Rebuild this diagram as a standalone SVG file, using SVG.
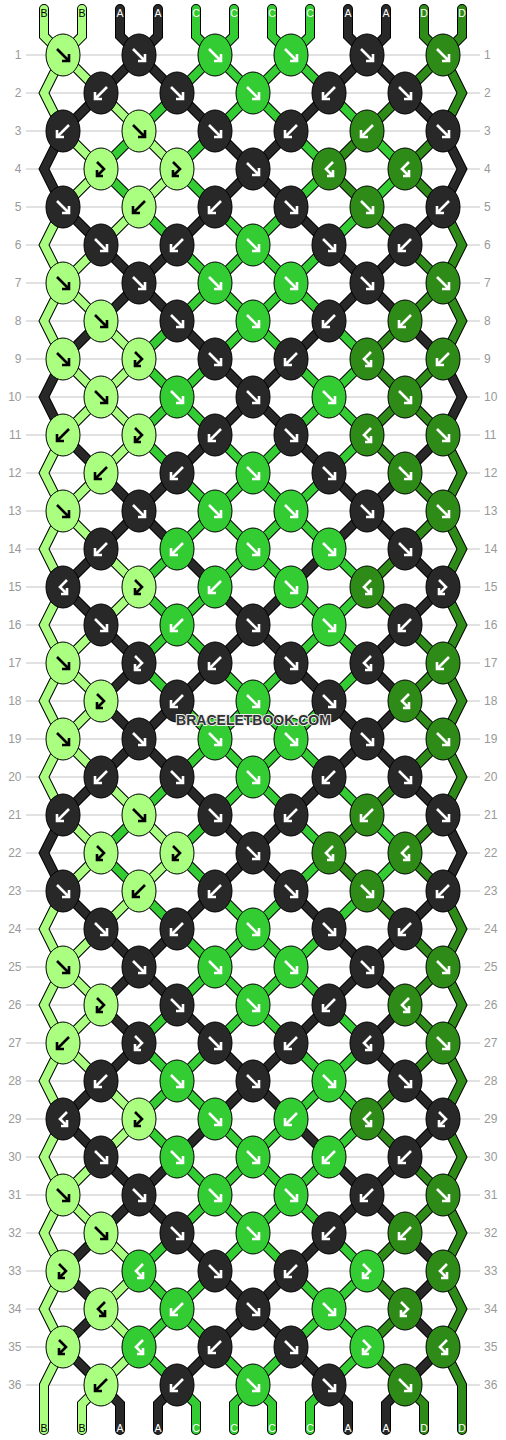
<svg xmlns="http://www.w3.org/2000/svg" xmlns:xlink="http://www.w3.org/1999/xlink" width="506" height="1440" viewBox="0 0 506 1440">
<style>
.grid{stroke:#c4c4c4;stroke-width:1;fill:none}
.num{font-family:"Liberation Sans",Arial,sans-serif;font-size:12px;fill:#999}
.nl{text-anchor:end}
.lab{font-family:"Liberation Sans",Arial,sans-serif;font-size:10.5px;text-anchor:middle}
.lB{fill:#000}.lW{fill:#fff}
.o{stroke:#000;stroke-width:10;fill:none;stroke-linecap:round;stroke-linejoin:miter}
.th{stroke-width:8;fill:none;stroke-linecap:round;stroke-linejoin:miter}
.tB{stroke:#aaff80}.tA{stroke:#282828}.tC{stroke:#33cc33}.tD{stroke:#2e8b17}
ellipse{stroke:#000;stroke-width:1}
.kB ellipse{fill:#aaff80}.kA ellipse{fill:#282828}.kC ellipse{fill:#33cc33}.kD ellipse{fill:#2e8b17}
.kB{stroke:#000}.kA,.kC,.kD{stroke:#fff}
.wm{font-family:"Liberation Sans",Arial,sans-serif;font-weight:bold;font-size:14px;text-anchor:middle;fill:#333;stroke:#eee;stroke-width:2;paint-order:stroke}
</style>
<defs>
<path id="aF" fill="none" stroke-width="2.6" d="M-6,-6L5,5M-1,6H6V-1"/>
<path id="aB" fill="none" stroke-width="2.6" d="M6,-6L-5,5M1,6H-6V-1"/>
<path id="aFB" fill="none" stroke-width="2.6" d="M-4,-7L3,0L-4,7M-4,1V7H2"/>
<path id="aBF" fill="none" stroke-width="2.6" d="M4,-7L-3,0L4,7M4,1V7H-2"/>
<path id="t1" d="M44,9V36L63,55L101,93L139,131L177,169L139,207L101,245L63,283L44,321L63,359L101,397L139,435L101,473L63,511L44,549L63,587L44,625L63,663L101,701L63,739L44,777L63,815L101,853L63,891L44,929L63,967L101,1005L63,1043L44,1081L63,1119L44,1157L63,1195L101,1233L139,1271L101,1309L139,1347L101,1385L82,1404V1430"/>
<path id="t2" d="M82,9V36L63,55L44,93L63,131L101,169L63,207L44,245L63,283L101,321L139,359L101,397L63,435L44,473L63,511L101,549L139,587L101,625L63,663L44,701L63,739L101,777L139,815L177,853L139,891L101,929L63,967L44,1005L63,1043L101,1081L139,1119L101,1157L63,1195L44,1233L63,1271L44,1309L63,1347L44,1385V1430"/>
<path id="t3" d="M120,9V36L139,55L177,93L215,131L253,169L291,207L329,245L367,283L405,321L443,359L462,397L443,435L405,473L367,511L329,549L291,587L253,625L215,663L177,701L139,739L101,777L63,815L44,853L63,891L101,929L139,967L177,1005L215,1043L253,1081L291,1119L329,1157L367,1195L405,1233L443,1271L405,1309L443,1347L405,1385L386,1404V1430"/>
<path id="t4" d="M158,9V36L139,55L101,93L63,131L44,169L63,207L101,245L139,283L177,321L215,359L253,397L291,435L329,473L367,511L405,549L443,587L405,625L367,663L405,701L367,739L329,777L291,815L253,853L215,891L177,929L139,967L101,1005L139,1043L101,1081L63,1119L101,1157L139,1195L177,1233L215,1271L253,1309L291,1347L329,1385L348,1404V1430"/>
<path id="t5" d="M196,9V36L215,55L253,93L291,131L329,169L291,207L253,245L215,283L177,321L139,359L177,397L215,435L253,473L291,511L329,549L367,587L329,625L291,663L253,701L215,739L177,777L139,815L101,853L139,891L177,929L215,967L253,1005L291,1043L329,1081L367,1119L329,1157L291,1195L253,1233L215,1271L177,1309L139,1347L177,1385L196,1404V1430"/>
<path id="t6" d="M234,9V36L215,55L177,93L139,131L101,169L139,207L177,245L215,283L253,321L291,359L329,397L367,435L329,473L291,511L253,549L215,587L177,625L139,663L177,701L215,739L253,777L291,815L329,853L291,891L253,929L215,967L177,1005L139,1043L177,1081L215,1119L253,1157L291,1195L329,1233L367,1271L329,1309L291,1347L253,1385L234,1404V1430"/>
<path id="t7" d="M272,9V36L291,55L329,93L367,131L405,169L367,207L329,245L291,283L253,321L215,359L177,397L139,435L177,473L215,511L253,549L291,587L329,625L367,663L329,701L291,739L253,777L215,815L177,853L215,891L253,929L291,967L329,1005L367,1043L329,1081L291,1119L253,1157L215,1195L177,1233L139,1271L177,1309L215,1347L253,1385L272,1404V1430"/>
<path id="t8" d="M310,9V36L291,55L253,93L215,131L177,169L215,207L253,245L291,283L329,321L367,359L329,397L291,435L253,473L215,511L177,549L139,587L177,625L215,663L253,701L291,739L329,777L367,815L405,853L367,891L329,929L291,967L253,1005L215,1043L177,1081L139,1119L177,1157L215,1195L253,1233L291,1271L329,1309L367,1347L329,1385L310,1404V1430"/>
<path id="t9" d="M348,9V36L367,55L405,93L443,131L462,169L443,207L405,245L367,283L329,321L291,359L253,397L215,435L177,473L139,511L101,549L63,587L101,625L139,663L101,701L139,739L177,777L215,815L253,853L291,891L329,929L367,967L405,1005L367,1043L405,1081L443,1119L405,1157L367,1195L329,1233L291,1271L253,1309L215,1347L177,1385L158,1404V1430"/>
<path id="t10" d="M386,9V36L367,55L329,93L291,131L253,169L215,207L177,245L139,283L101,321L63,359L44,397L63,435L101,473L139,511L177,549L215,587L253,625L291,663L329,701L367,739L405,777L443,815L462,853L443,891L405,929L367,967L329,1005L291,1043L253,1081L215,1119L177,1157L139,1195L101,1233L63,1271L101,1309L63,1347L101,1385L120,1404V1430"/>
<path id="t11" d="M424,9V36L443,55L462,93L443,131L405,169L443,207L462,245L443,283L405,321L367,359L405,397L443,435L462,473L443,511L405,549L367,587L405,625L443,663L462,701L443,739L405,777L367,815L329,853L367,891L405,929L443,967L462,1005L443,1043L405,1081L367,1119L405,1157L443,1195L462,1233L443,1271L462,1309L443,1347L462,1385V1430"/>
<path id="t12" d="M462,9V36L443,55L405,93L367,131L329,169L367,207L405,245L443,283L462,321L443,359L405,397L367,435L405,473L443,511L462,549L443,587L462,625L443,663L405,701L443,739L462,777L443,815L405,853L443,891L462,929L443,967L405,1005L443,1043L462,1081L443,1119L462,1157L443,1195L405,1233L367,1271L405,1309L367,1347L405,1385L424,1404V1430"/>
</defs>
<rect width="506" height="1440" fill="#fff"/>
<g id="grid">
<path class="grid" d="M26,55H480M26,93H480M26,131H480M26,169H480M26,207H480M26,245H480M26,283H480M26,321H480M26,359H480M26,397H480M26,435H480M26,473H480M26,511H480M26,549H480M26,587H480M26,625H480M26,663H480M26,701H480M26,739H480M26,777H480M26,815H480M26,853H480M26,891H480M26,929H480M26,967H480M26,1005H480M26,1043H480M26,1081H480M26,1119H480M26,1157H480M26,1195H480M26,1233H480M26,1271H480M26,1309H480M26,1347H480M26,1385H480"/>
</g>
<g id="row-numbers" class="num">
<text class="nl" x="21.5" y="59.3">1</text><text x="484" y="59.3">1</text>
<text class="nl" x="21.5" y="97.3">2</text><text x="484" y="97.3">2</text>
<text class="nl" x="21.5" y="135.3">3</text><text x="484" y="135.3">3</text>
<text class="nl" x="21.5" y="173.3">4</text><text x="484" y="173.3">4</text>
<text class="nl" x="21.5" y="211.3">5</text><text x="484" y="211.3">5</text>
<text class="nl" x="21.5" y="249.3">6</text><text x="484" y="249.3">6</text>
<text class="nl" x="21.5" y="287.3">7</text><text x="484" y="287.3">7</text>
<text class="nl" x="21.5" y="325.3">8</text><text x="484" y="325.3">8</text>
<text class="nl" x="21.5" y="363.3">9</text><text x="484" y="363.3">9</text>
<text class="nl" x="21.5" y="401.3">10</text><text x="484" y="401.3">10</text>
<text class="nl" x="21.5" y="439.3">11</text><text x="484" y="439.3">11</text>
<text class="nl" x="21.5" y="477.3">12</text><text x="484" y="477.3">12</text>
<text class="nl" x="21.5" y="515.3">13</text><text x="484" y="515.3">13</text>
<text class="nl" x="21.5" y="553.3">14</text><text x="484" y="553.3">14</text>
<text class="nl" x="21.5" y="591.3">15</text><text x="484" y="591.3">15</text>
<text class="nl" x="21.5" y="629.3">16</text><text x="484" y="629.3">16</text>
<text class="nl" x="21.5" y="667.3">17</text><text x="484" y="667.3">17</text>
<text class="nl" x="21.5" y="705.3">18</text><text x="484" y="705.3">18</text>
<text class="nl" x="21.5" y="743.3">19</text><text x="484" y="743.3">19</text>
<text class="nl" x="21.5" y="781.3">20</text><text x="484" y="781.3">20</text>
<text class="nl" x="21.5" y="819.3">21</text><text x="484" y="819.3">21</text>
<text class="nl" x="21.5" y="857.3">22</text><text x="484" y="857.3">22</text>
<text class="nl" x="21.5" y="895.3">23</text><text x="484" y="895.3">23</text>
<text class="nl" x="21.5" y="933.3">24</text><text x="484" y="933.3">24</text>
<text class="nl" x="21.5" y="971.3">25</text><text x="484" y="971.3">25</text>
<text class="nl" x="21.5" y="1009.3">26</text><text x="484" y="1009.3">26</text>
<text class="nl" x="21.5" y="1047.3">27</text><text x="484" y="1047.3">27</text>
<text class="nl" x="21.5" y="1085.3">28</text><text x="484" y="1085.3">28</text>
<text class="nl" x="21.5" y="1123.3">29</text><text x="484" y="1123.3">29</text>
<text class="nl" x="21.5" y="1161.3">30</text><text x="484" y="1161.3">30</text>
<text class="nl" x="21.5" y="1199.3">31</text><text x="484" y="1199.3">31</text>
<text class="nl" x="21.5" y="1237.3">32</text><text x="484" y="1237.3">32</text>
<text class="nl" x="21.5" y="1275.3">33</text><text x="484" y="1275.3">33</text>
<text class="nl" x="21.5" y="1313.3">34</text><text x="484" y="1313.3">34</text>
<text class="nl" x="21.5" y="1351.3">35</text><text x="484" y="1351.3">35</text>
<text class="nl" x="21.5" y="1389.3">36</text><text x="484" y="1389.3">36</text>
</g>
<g id="connectors">
<use href="#t1" class="o"/><use href="#t2" class="o"/><use href="#t3" class="o"/><use href="#t4" class="o"/><use href="#t5" class="o"/><use href="#t6" class="o"/><use href="#t7" class="o"/><use href="#t8" class="o"/><use href="#t9" class="o"/><use href="#t10" class="o"/><use href="#t11" class="o"/><use href="#t12" class="o"/>
<use href="#t1" class="th tB"/><use href="#t2" class="th tB"/><use href="#t3" class="th tA"/><use href="#t4" class="th tA"/><use href="#t5" class="th tC"/><use href="#t6" class="th tC"/><use href="#t7" class="th tC"/><use href="#t8" class="th tC"/><use href="#t9" class="th tA"/><use href="#t10" class="th tA"/><use href="#t11" class="th tD"/><use href="#t12" class="th tD"/>
</g>
<g id="labels-top">
<text class="lab lB" x="44" y="16.5">B</text><text class="lab lB" x="82" y="16.5">B</text><text class="lab lW" x="120" y="16.5">A</text><text class="lab lW" x="158" y="16.5">A</text><text class="lab lW" x="196" y="16.5">C</text><text class="lab lW" x="234" y="16.5">C</text><text class="lab lW" x="272" y="16.5">C</text><text class="lab lW" x="310" y="16.5">C</text><text class="lab lW" x="348" y="16.5">A</text><text class="lab lW" x="386" y="16.5">A</text><text class="lab lW" x="424" y="16.5">D</text><text class="lab lW" x="462" y="16.5">D</text>
</g>
<g id="labels-bottom">
<text class="lab lB" x="44" y="1431.5">B</text><text class="lab lB" x="82" y="1431.5">B</text><text class="lab lW" x="120" y="1431.5">A</text><text class="lab lW" x="158" y="1431.5">A</text><text class="lab lW" x="196" y="1431.5">C</text><text class="lab lW" x="234" y="1431.5">C</text><text class="lab lW" x="272" y="1431.5">C</text><text class="lab lW" x="310" y="1431.5">C</text><text class="lab lW" x="348" y="1431.5">A</text><text class="lab lW" x="386" y="1431.5">A</text><text class="lab lW" x="424" y="1431.5">D</text><text class="lab lW" x="462" y="1431.5">D</text>
</g>
<g id="knots">
<g id="k1_1" class="kB" transform="translate(63,55)"><ellipse rx="17" ry="21"/><use href="#aF"/></g>
<g id="k1_2" class="kA" transform="translate(139,55)"><ellipse rx="17" ry="21"/><use href="#aF"/></g>
<g id="k1_3" class="kC" transform="translate(215,55)"><ellipse rx="17" ry="21"/><use href="#aF"/></g>
<g id="k1_4" class="kC" transform="translate(291,55)"><ellipse rx="17" ry="21"/><use href="#aF"/></g>
<g id="k1_5" class="kA" transform="translate(367,55)"><ellipse rx="17" ry="21"/><use href="#aF"/></g>
<g id="k1_6" class="kD" transform="translate(443,55)"><ellipse rx="17" ry="21"/><use href="#aF"/></g>
<g id="k2_1" class="kA" transform="translate(101,93)"><ellipse rx="17" ry="21"/><use href="#aB"/></g>
<g id="k2_2" class="kA" transform="translate(177,93)"><ellipse rx="17" ry="21"/><use href="#aF"/></g>
<g id="k2_3" class="kC" transform="translate(253,93)"><ellipse rx="17" ry="21"/><use href="#aF"/></g>
<g id="k2_4" class="kA" transform="translate(329,93)"><ellipse rx="17" ry="21"/><use href="#aB"/></g>
<g id="k2_5" class="kA" transform="translate(405,93)"><ellipse rx="17" ry="21"/><use href="#aF"/></g>
<g id="k3_1" class="kA" transform="translate(63,131)"><ellipse rx="17" ry="21"/><use href="#aB"/></g>
<g id="k3_2" class="kB" transform="translate(139,131)"><ellipse rx="17" ry="21"/><use href="#aF"/></g>
<g id="k3_3" class="kA" transform="translate(215,131)"><ellipse rx="17" ry="21"/><use href="#aF"/></g>
<g id="k3_4" class="kA" transform="translate(291,131)"><ellipse rx="17" ry="21"/><use href="#aB"/></g>
<g id="k3_5" class="kD" transform="translate(367,131)"><ellipse rx="17" ry="21"/><use href="#aB"/></g>
<g id="k3_6" class="kA" transform="translate(443,131)"><ellipse rx="17" ry="21"/><use href="#aF"/></g>
<g id="k4_1" class="kB" transform="translate(101,169)"><ellipse rx="17" ry="21"/><use href="#aFB"/></g>
<g id="k4_2" class="kB" transform="translate(177,169)"><ellipse rx="17" ry="21"/><use href="#aFB"/></g>
<g id="k4_3" class="kA" transform="translate(253,169)"><ellipse rx="17" ry="21"/><use href="#aF"/></g>
<g id="k4_4" class="kD" transform="translate(329,169)"><ellipse rx="17" ry="21"/><use href="#aBF"/></g>
<g id="k4_5" class="kD" transform="translate(405,169)"><ellipse rx="17" ry="21"/><use href="#aBF"/></g>
<g id="k5_1" class="kA" transform="translate(63,207)"><ellipse rx="17" ry="21"/><use href="#aF"/></g>
<g id="k5_2" class="kB" transform="translate(139,207)"><ellipse rx="17" ry="21"/><use href="#aB"/></g>
<g id="k5_3" class="kA" transform="translate(215,207)"><ellipse rx="17" ry="21"/><use href="#aB"/></g>
<g id="k5_4" class="kA" transform="translate(291,207)"><ellipse rx="17" ry="21"/><use href="#aF"/></g>
<g id="k5_5" class="kD" transform="translate(367,207)"><ellipse rx="17" ry="21"/><use href="#aF"/></g>
<g id="k5_6" class="kA" transform="translate(443,207)"><ellipse rx="17" ry="21"/><use href="#aB"/></g>
<g id="k6_1" class="kA" transform="translate(101,245)"><ellipse rx="17" ry="21"/><use href="#aF"/></g>
<g id="k6_2" class="kA" transform="translate(177,245)"><ellipse rx="17" ry="21"/><use href="#aB"/></g>
<g id="k6_3" class="kC" transform="translate(253,245)"><ellipse rx="17" ry="21"/><use href="#aF"/></g>
<g id="k6_4" class="kA" transform="translate(329,245)"><ellipse rx="17" ry="21"/><use href="#aF"/></g>
<g id="k6_5" class="kA" transform="translate(405,245)"><ellipse rx="17" ry="21"/><use href="#aB"/></g>
<g id="k7_1" class="kB" transform="translate(63,283)"><ellipse rx="17" ry="21"/><use href="#aF"/></g>
<g id="k7_2" class="kA" transform="translate(139,283)"><ellipse rx="17" ry="21"/><use href="#aF"/></g>
<g id="k7_3" class="kC" transform="translate(215,283)"><ellipse rx="17" ry="21"/><use href="#aF"/></g>
<g id="k7_4" class="kC" transform="translate(291,283)"><ellipse rx="17" ry="21"/><use href="#aF"/></g>
<g id="k7_5" class="kA" transform="translate(367,283)"><ellipse rx="17" ry="21"/><use href="#aF"/></g>
<g id="k7_6" class="kD" transform="translate(443,283)"><ellipse rx="17" ry="21"/><use href="#aF"/></g>
<g id="k8_1" class="kB" transform="translate(101,321)"><ellipse rx="17" ry="21"/><use href="#aF"/></g>
<g id="k8_2" class="kA" transform="translate(177,321)"><ellipse rx="17" ry="21"/><use href="#aF"/></g>
<g id="k8_3" class="kC" transform="translate(253,321)"><ellipse rx="17" ry="21"/><use href="#aF"/></g>
<g id="k8_4" class="kA" transform="translate(329,321)"><ellipse rx="17" ry="21"/><use href="#aB"/></g>
<g id="k8_5" class="kD" transform="translate(405,321)"><ellipse rx="17" ry="21"/><use href="#aB"/></g>
<g id="k9_1" class="kB" transform="translate(63,359)"><ellipse rx="17" ry="21"/><use href="#aF"/></g>
<g id="k9_2" class="kB" transform="translate(139,359)"><ellipse rx="17" ry="21"/><use href="#aFB"/></g>
<g id="k9_3" class="kA" transform="translate(215,359)"><ellipse rx="17" ry="21"/><use href="#aF"/></g>
<g id="k9_4" class="kA" transform="translate(291,359)"><ellipse rx="17" ry="21"/><use href="#aB"/></g>
<g id="k9_5" class="kD" transform="translate(367,359)"><ellipse rx="17" ry="21"/><use href="#aBF"/></g>
<g id="k9_6" class="kD" transform="translate(443,359)"><ellipse rx="17" ry="21"/><use href="#aB"/></g>
<g id="k10_1" class="kB" transform="translate(101,397)"><ellipse rx="17" ry="21"/><use href="#aF"/></g>
<g id="k10_2" class="kC" transform="translate(177,397)"><ellipse rx="17" ry="21"/><use href="#aF"/></g>
<g id="k10_3" class="kA" transform="translate(253,397)"><ellipse rx="17" ry="21"/><use href="#aF"/></g>
<g id="k10_4" class="kC" transform="translate(329,397)"><ellipse rx="17" ry="21"/><use href="#aF"/></g>
<g id="k10_5" class="kD" transform="translate(405,397)"><ellipse rx="17" ry="21"/><use href="#aF"/></g>
<g id="k11_1" class="kB" transform="translate(63,435)"><ellipse rx="17" ry="21"/><use href="#aB"/></g>
<g id="k11_2" class="kB" transform="translate(139,435)"><ellipse rx="17" ry="21"/><use href="#aFB"/></g>
<g id="k11_3" class="kA" transform="translate(215,435)"><ellipse rx="17" ry="21"/><use href="#aB"/></g>
<g id="k11_4" class="kA" transform="translate(291,435)"><ellipse rx="17" ry="21"/><use href="#aF"/></g>
<g id="k11_5" class="kD" transform="translate(367,435)"><ellipse rx="17" ry="21"/><use href="#aBF"/></g>
<g id="k11_6" class="kD" transform="translate(443,435)"><ellipse rx="17" ry="21"/><use href="#aF"/></g>
<g id="k12_1" class="kB" transform="translate(101,473)"><ellipse rx="17" ry="21"/><use href="#aB"/></g>
<g id="k12_2" class="kA" transform="translate(177,473)"><ellipse rx="17" ry="21"/><use href="#aB"/></g>
<g id="k12_3" class="kC" transform="translate(253,473)"><ellipse rx="17" ry="21"/><use href="#aF"/></g>
<g id="k12_4" class="kA" transform="translate(329,473)"><ellipse rx="17" ry="21"/><use href="#aF"/></g>
<g id="k12_5" class="kD" transform="translate(405,473)"><ellipse rx="17" ry="21"/><use href="#aF"/></g>
<g id="k13_1" class="kB" transform="translate(63,511)"><ellipse rx="17" ry="21"/><use href="#aF"/></g>
<g id="k13_2" class="kA" transform="translate(139,511)"><ellipse rx="17" ry="21"/><use href="#aF"/></g>
<g id="k13_3" class="kC" transform="translate(215,511)"><ellipse rx="17" ry="21"/><use href="#aF"/></g>
<g id="k13_4" class="kC" transform="translate(291,511)"><ellipse rx="17" ry="21"/><use href="#aF"/></g>
<g id="k13_5" class="kA" transform="translate(367,511)"><ellipse rx="17" ry="21"/><use href="#aF"/></g>
<g id="k13_6" class="kD" transform="translate(443,511)"><ellipse rx="17" ry="21"/><use href="#aF"/></g>
<g id="k14_1" class="kA" transform="translate(101,549)"><ellipse rx="17" ry="21"/><use href="#aB"/></g>
<g id="k14_2" class="kC" transform="translate(177,549)"><ellipse rx="17" ry="21"/><use href="#aB"/></g>
<g id="k14_3" class="kC" transform="translate(253,549)"><ellipse rx="17" ry="21"/><use href="#aF"/></g>
<g id="k14_4" class="kC" transform="translate(329,549)"><ellipse rx="17" ry="21"/><use href="#aF"/></g>
<g id="k14_5" class="kA" transform="translate(405,549)"><ellipse rx="17" ry="21"/><use href="#aF"/></g>
<g id="k15_1" class="kA" transform="translate(63,587)"><ellipse rx="17" ry="21"/><use href="#aBF"/></g>
<g id="k15_2" class="kB" transform="translate(139,587)"><ellipse rx="17" ry="21"/><use href="#aFB"/></g>
<g id="k15_3" class="kC" transform="translate(215,587)"><ellipse rx="17" ry="21"/><use href="#aB"/></g>
<g id="k15_4" class="kC" transform="translate(291,587)"><ellipse rx="17" ry="21"/><use href="#aF"/></g>
<g id="k15_5" class="kD" transform="translate(367,587)"><ellipse rx="17" ry="21"/><use href="#aBF"/></g>
<g id="k15_6" class="kA" transform="translate(443,587)"><ellipse rx="17" ry="21"/><use href="#aFB"/></g>
<g id="k16_1" class="kA" transform="translate(101,625)"><ellipse rx="17" ry="21"/><use href="#aF"/></g>
<g id="k16_2" class="kC" transform="translate(177,625)"><ellipse rx="17" ry="21"/><use href="#aB"/></g>
<g id="k16_3" class="kA" transform="translate(253,625)"><ellipse rx="17" ry="21"/><use href="#aF"/></g>
<g id="k16_4" class="kC" transform="translate(329,625)"><ellipse rx="17" ry="21"/><use href="#aF"/></g>
<g id="k16_5" class="kA" transform="translate(405,625)"><ellipse rx="17" ry="21"/><use href="#aB"/></g>
<g id="k17_1" class="kB" transform="translate(63,663)"><ellipse rx="17" ry="21"/><use href="#aF"/></g>
<g id="k17_2" class="kA" transform="translate(139,663)"><ellipse rx="17" ry="21"/><use href="#aFB"/></g>
<g id="k17_3" class="kA" transform="translate(215,663)"><ellipse rx="17" ry="21"/><use href="#aB"/></g>
<g id="k17_4" class="kA" transform="translate(291,663)"><ellipse rx="17" ry="21"/><use href="#aF"/></g>
<g id="k17_5" class="kA" transform="translate(367,663)"><ellipse rx="17" ry="21"/><use href="#aBF"/></g>
<g id="k17_6" class="kD" transform="translate(443,663)"><ellipse rx="17" ry="21"/><use href="#aB"/></g>
<g id="k18_1" class="kB" transform="translate(101,701)"><ellipse rx="17" ry="21"/><use href="#aFB"/></g>
<g id="k18_2" class="kA" transform="translate(177,701)"><ellipse rx="17" ry="21"/><use href="#aB"/></g>
<g id="k18_3" class="kC" transform="translate(253,701)"><ellipse rx="17" ry="21"/><use href="#aF"/></g>
<g id="k18_4" class="kA" transform="translate(329,701)"><ellipse rx="17" ry="21"/><use href="#aF"/></g>
<g id="k18_5" class="kD" transform="translate(405,701)"><ellipse rx="17" ry="21"/><use href="#aBF"/></g>
<g id="k19_1" class="kB" transform="translate(63,739)"><ellipse rx="17" ry="21"/><use href="#aF"/></g>
<g id="k19_2" class="kA" transform="translate(139,739)"><ellipse rx="17" ry="21"/><use href="#aF"/></g>
<g id="k19_3" class="kC" transform="translate(215,739)"><ellipse rx="17" ry="21"/><use href="#aF"/></g>
<g id="k19_4" class="kC" transform="translate(291,739)"><ellipse rx="17" ry="21"/><use href="#aF"/></g>
<g id="k19_5" class="kA" transform="translate(367,739)"><ellipse rx="17" ry="21"/><use href="#aF"/></g>
<g id="k19_6" class="kD" transform="translate(443,739)"><ellipse rx="17" ry="21"/><use href="#aF"/></g>
<g id="k20_1" class="kA" transform="translate(101,777)"><ellipse rx="17" ry="21"/><use href="#aB"/></g>
<g id="k20_2" class="kA" transform="translate(177,777)"><ellipse rx="17" ry="21"/><use href="#aF"/></g>
<g id="k20_3" class="kC" transform="translate(253,777)"><ellipse rx="17" ry="21"/><use href="#aF"/></g>
<g id="k20_4" class="kA" transform="translate(329,777)"><ellipse rx="17" ry="21"/><use href="#aB"/></g>
<g id="k20_5" class="kA" transform="translate(405,777)"><ellipse rx="17" ry="21"/><use href="#aF"/></g>
<g id="k21_1" class="kA" transform="translate(63,815)"><ellipse rx="17" ry="21"/><use href="#aB"/></g>
<g id="k21_2" class="kB" transform="translate(139,815)"><ellipse rx="17" ry="21"/><use href="#aF"/></g>
<g id="k21_3" class="kA" transform="translate(215,815)"><ellipse rx="17" ry="21"/><use href="#aF"/></g>
<g id="k21_4" class="kA" transform="translate(291,815)"><ellipse rx="17" ry="21"/><use href="#aB"/></g>
<g id="k21_5" class="kD" transform="translate(367,815)"><ellipse rx="17" ry="21"/><use href="#aB"/></g>
<g id="k21_6" class="kA" transform="translate(443,815)"><ellipse rx="17" ry="21"/><use href="#aF"/></g>
<g id="k22_1" class="kB" transform="translate(101,853)"><ellipse rx="17" ry="21"/><use href="#aFB"/></g>
<g id="k22_2" class="kB" transform="translate(177,853)"><ellipse rx="17" ry="21"/><use href="#aFB"/></g>
<g id="k22_3" class="kA" transform="translate(253,853)"><ellipse rx="17" ry="21"/><use href="#aF"/></g>
<g id="k22_4" class="kD" transform="translate(329,853)"><ellipse rx="17" ry="21"/><use href="#aBF"/></g>
<g id="k22_5" class="kD" transform="translate(405,853)"><ellipse rx="17" ry="21"/><use href="#aBF"/></g>
<g id="k23_1" class="kA" transform="translate(63,891)"><ellipse rx="17" ry="21"/><use href="#aF"/></g>
<g id="k23_2" class="kB" transform="translate(139,891)"><ellipse rx="17" ry="21"/><use href="#aB"/></g>
<g id="k23_3" class="kA" transform="translate(215,891)"><ellipse rx="17" ry="21"/><use href="#aB"/></g>
<g id="k23_4" class="kA" transform="translate(291,891)"><ellipse rx="17" ry="21"/><use href="#aF"/></g>
<g id="k23_5" class="kD" transform="translate(367,891)"><ellipse rx="17" ry="21"/><use href="#aF"/></g>
<g id="k23_6" class="kA" transform="translate(443,891)"><ellipse rx="17" ry="21"/><use href="#aB"/></g>
<g id="k24_1" class="kA" transform="translate(101,929)"><ellipse rx="17" ry="21"/><use href="#aF"/></g>
<g id="k24_2" class="kA" transform="translate(177,929)"><ellipse rx="17" ry="21"/><use href="#aB"/></g>
<g id="k24_3" class="kC" transform="translate(253,929)"><ellipse rx="17" ry="21"/><use href="#aF"/></g>
<g id="k24_4" class="kA" transform="translate(329,929)"><ellipse rx="17" ry="21"/><use href="#aF"/></g>
<g id="k24_5" class="kA" transform="translate(405,929)"><ellipse rx="17" ry="21"/><use href="#aB"/></g>
<g id="k25_1" class="kB" transform="translate(63,967)"><ellipse rx="17" ry="21"/><use href="#aF"/></g>
<g id="k25_2" class="kA" transform="translate(139,967)"><ellipse rx="17" ry="21"/><use href="#aF"/></g>
<g id="k25_3" class="kC" transform="translate(215,967)"><ellipse rx="17" ry="21"/><use href="#aF"/></g>
<g id="k25_4" class="kC" transform="translate(291,967)"><ellipse rx="17" ry="21"/><use href="#aF"/></g>
<g id="k25_5" class="kA" transform="translate(367,967)"><ellipse rx="17" ry="21"/><use href="#aF"/></g>
<g id="k25_6" class="kD" transform="translate(443,967)"><ellipse rx="17" ry="21"/><use href="#aF"/></g>
<g id="k26_1" class="kB" transform="translate(101,1005)"><ellipse rx="17" ry="21"/><use href="#aFB"/></g>
<g id="k26_2" class="kA" transform="translate(177,1005)"><ellipse rx="17" ry="21"/><use href="#aF"/></g>
<g id="k26_3" class="kC" transform="translate(253,1005)"><ellipse rx="17" ry="21"/><use href="#aF"/></g>
<g id="k26_4" class="kA" transform="translate(329,1005)"><ellipse rx="17" ry="21"/><use href="#aB"/></g>
<g id="k26_5" class="kD" transform="translate(405,1005)"><ellipse rx="17" ry="21"/><use href="#aBF"/></g>
<g id="k27_1" class="kB" transform="translate(63,1043)"><ellipse rx="17" ry="21"/><use href="#aB"/></g>
<g id="k27_2" class="kA" transform="translate(139,1043)"><ellipse rx="17" ry="21"/><use href="#aFB"/></g>
<g id="k27_3" class="kA" transform="translate(215,1043)"><ellipse rx="17" ry="21"/><use href="#aF"/></g>
<g id="k27_4" class="kA" transform="translate(291,1043)"><ellipse rx="17" ry="21"/><use href="#aB"/></g>
<g id="k27_5" class="kA" transform="translate(367,1043)"><ellipse rx="17" ry="21"/><use href="#aBF"/></g>
<g id="k27_6" class="kD" transform="translate(443,1043)"><ellipse rx="17" ry="21"/><use href="#aF"/></g>
<g id="k28_1" class="kA" transform="translate(101,1081)"><ellipse rx="17" ry="21"/><use href="#aB"/></g>
<g id="k28_2" class="kC" transform="translate(177,1081)"><ellipse rx="17" ry="21"/><use href="#aF"/></g>
<g id="k28_3" class="kA" transform="translate(253,1081)"><ellipse rx="17" ry="21"/><use href="#aF"/></g>
<g id="k28_4" class="kC" transform="translate(329,1081)"><ellipse rx="17" ry="21"/><use href="#aF"/></g>
<g id="k28_5" class="kA" transform="translate(405,1081)"><ellipse rx="17" ry="21"/><use href="#aF"/></g>
<g id="k29_1" class="kA" transform="translate(63,1119)"><ellipse rx="17" ry="21"/><use href="#aBF"/></g>
<g id="k29_2" class="kB" transform="translate(139,1119)"><ellipse rx="17" ry="21"/><use href="#aFB"/></g>
<g id="k29_3" class="kC" transform="translate(215,1119)"><ellipse rx="17" ry="21"/><use href="#aF"/></g>
<g id="k29_4" class="kC" transform="translate(291,1119)"><ellipse rx="17" ry="21"/><use href="#aB"/></g>
<g id="k29_5" class="kD" transform="translate(367,1119)"><ellipse rx="17" ry="21"/><use href="#aBF"/></g>
<g id="k29_6" class="kA" transform="translate(443,1119)"><ellipse rx="17" ry="21"/><use href="#aFB"/></g>
<g id="k30_1" class="kA" transform="translate(101,1157)"><ellipse rx="17" ry="21"/><use href="#aF"/></g>
<g id="k30_2" class="kC" transform="translate(177,1157)"><ellipse rx="17" ry="21"/><use href="#aF"/></g>
<g id="k30_3" class="kC" transform="translate(253,1157)"><ellipse rx="17" ry="21"/><use href="#aF"/></g>
<g id="k30_4" class="kC" transform="translate(329,1157)"><ellipse rx="17" ry="21"/><use href="#aB"/></g>
<g id="k30_5" class="kA" transform="translate(405,1157)"><ellipse rx="17" ry="21"/><use href="#aB"/></g>
<g id="k31_1" class="kB" transform="translate(63,1195)"><ellipse rx="17" ry="21"/><use href="#aF"/></g>
<g id="k31_2" class="kA" transform="translate(139,1195)"><ellipse rx="17" ry="21"/><use href="#aF"/></g>
<g id="k31_3" class="kC" transform="translate(215,1195)"><ellipse rx="17" ry="21"/><use href="#aF"/></g>
<g id="k31_4" class="kC" transform="translate(291,1195)"><ellipse rx="17" ry="21"/><use href="#aF"/></g>
<g id="k31_5" class="kA" transform="translate(367,1195)"><ellipse rx="17" ry="21"/><use href="#aB"/></g>
<g id="k31_6" class="kD" transform="translate(443,1195)"><ellipse rx="17" ry="21"/><use href="#aF"/></g>
<g id="k32_1" class="kB" transform="translate(101,1233)"><ellipse rx="17" ry="21"/><use href="#aF"/></g>
<g id="k32_2" class="kA" transform="translate(177,1233)"><ellipse rx="17" ry="21"/><use href="#aF"/></g>
<g id="k32_3" class="kC" transform="translate(253,1233)"><ellipse rx="17" ry="21"/><use href="#aF"/></g>
<g id="k32_4" class="kA" transform="translate(329,1233)"><ellipse rx="17" ry="21"/><use href="#aB"/></g>
<g id="k32_5" class="kD" transform="translate(405,1233)"><ellipse rx="17" ry="21"/><use href="#aB"/></g>
<g id="k33_1" class="kB" transform="translate(63,1271)"><ellipse rx="17" ry="21"/><use href="#aFB"/></g>
<g id="k33_2" class="kC" transform="translate(139,1271)"><ellipse rx="17" ry="21"/><use href="#aBF"/></g>
<g id="k33_3" class="kA" transform="translate(215,1271)"><ellipse rx="17" ry="21"/><use href="#aF"/></g>
<g id="k33_4" class="kA" transform="translate(291,1271)"><ellipse rx="17" ry="21"/><use href="#aB"/></g>
<g id="k33_5" class="kC" transform="translate(367,1271)"><ellipse rx="17" ry="21"/><use href="#aFB"/></g>
<g id="k33_6" class="kD" transform="translate(443,1271)"><ellipse rx="17" ry="21"/><use href="#aBF"/></g>
<g id="k34_1" class="kB" transform="translate(101,1309)"><ellipse rx="17" ry="21"/><use href="#aBF"/></g>
<g id="k34_2" class="kC" transform="translate(177,1309)"><ellipse rx="17" ry="21"/><use href="#aB"/></g>
<g id="k34_3" class="kA" transform="translate(253,1309)"><ellipse rx="17" ry="21"/><use href="#aF"/></g>
<g id="k34_4" class="kC" transform="translate(329,1309)"><ellipse rx="17" ry="21"/><use href="#aF"/></g>
<g id="k34_5" class="kD" transform="translate(405,1309)"><ellipse rx="17" ry="21"/><use href="#aFB"/></g>
<g id="k35_1" class="kB" transform="translate(63,1347)"><ellipse rx="17" ry="21"/><use href="#aFB"/></g>
<g id="k35_2" class="kC" transform="translate(139,1347)"><ellipse rx="17" ry="21"/><use href="#aBF"/></g>
<g id="k35_3" class="kA" transform="translate(215,1347)"><ellipse rx="17" ry="21"/><use href="#aB"/></g>
<g id="k35_4" class="kA" transform="translate(291,1347)"><ellipse rx="17" ry="21"/><use href="#aF"/></g>
<g id="k35_5" class="kC" transform="translate(367,1347)"><ellipse rx="17" ry="21"/><use href="#aFB"/></g>
<g id="k35_6" class="kD" transform="translate(443,1347)"><ellipse rx="17" ry="21"/><use href="#aBF"/></g>
<g id="k36_1" class="kB" transform="translate(101,1385)"><ellipse rx="17" ry="21"/><use href="#aB"/></g>
<g id="k36_2" class="kA" transform="translate(177,1385)"><ellipse rx="17" ry="21"/><use href="#aB"/></g>
<g id="k36_3" class="kC" transform="translate(253,1385)"><ellipse rx="17" ry="21"/><use href="#aF"/></g>
<g id="k36_4" class="kA" transform="translate(329,1385)"><ellipse rx="17" ry="21"/><use href="#aF"/></g>
<g id="k36_5" class="kD" transform="translate(405,1385)"><ellipse rx="17" ry="21"/><use href="#aF"/></g>
</g>
<text class="wm" x="253.5" y="724.5">BRACELETBOOK.COM</text>
</svg>
